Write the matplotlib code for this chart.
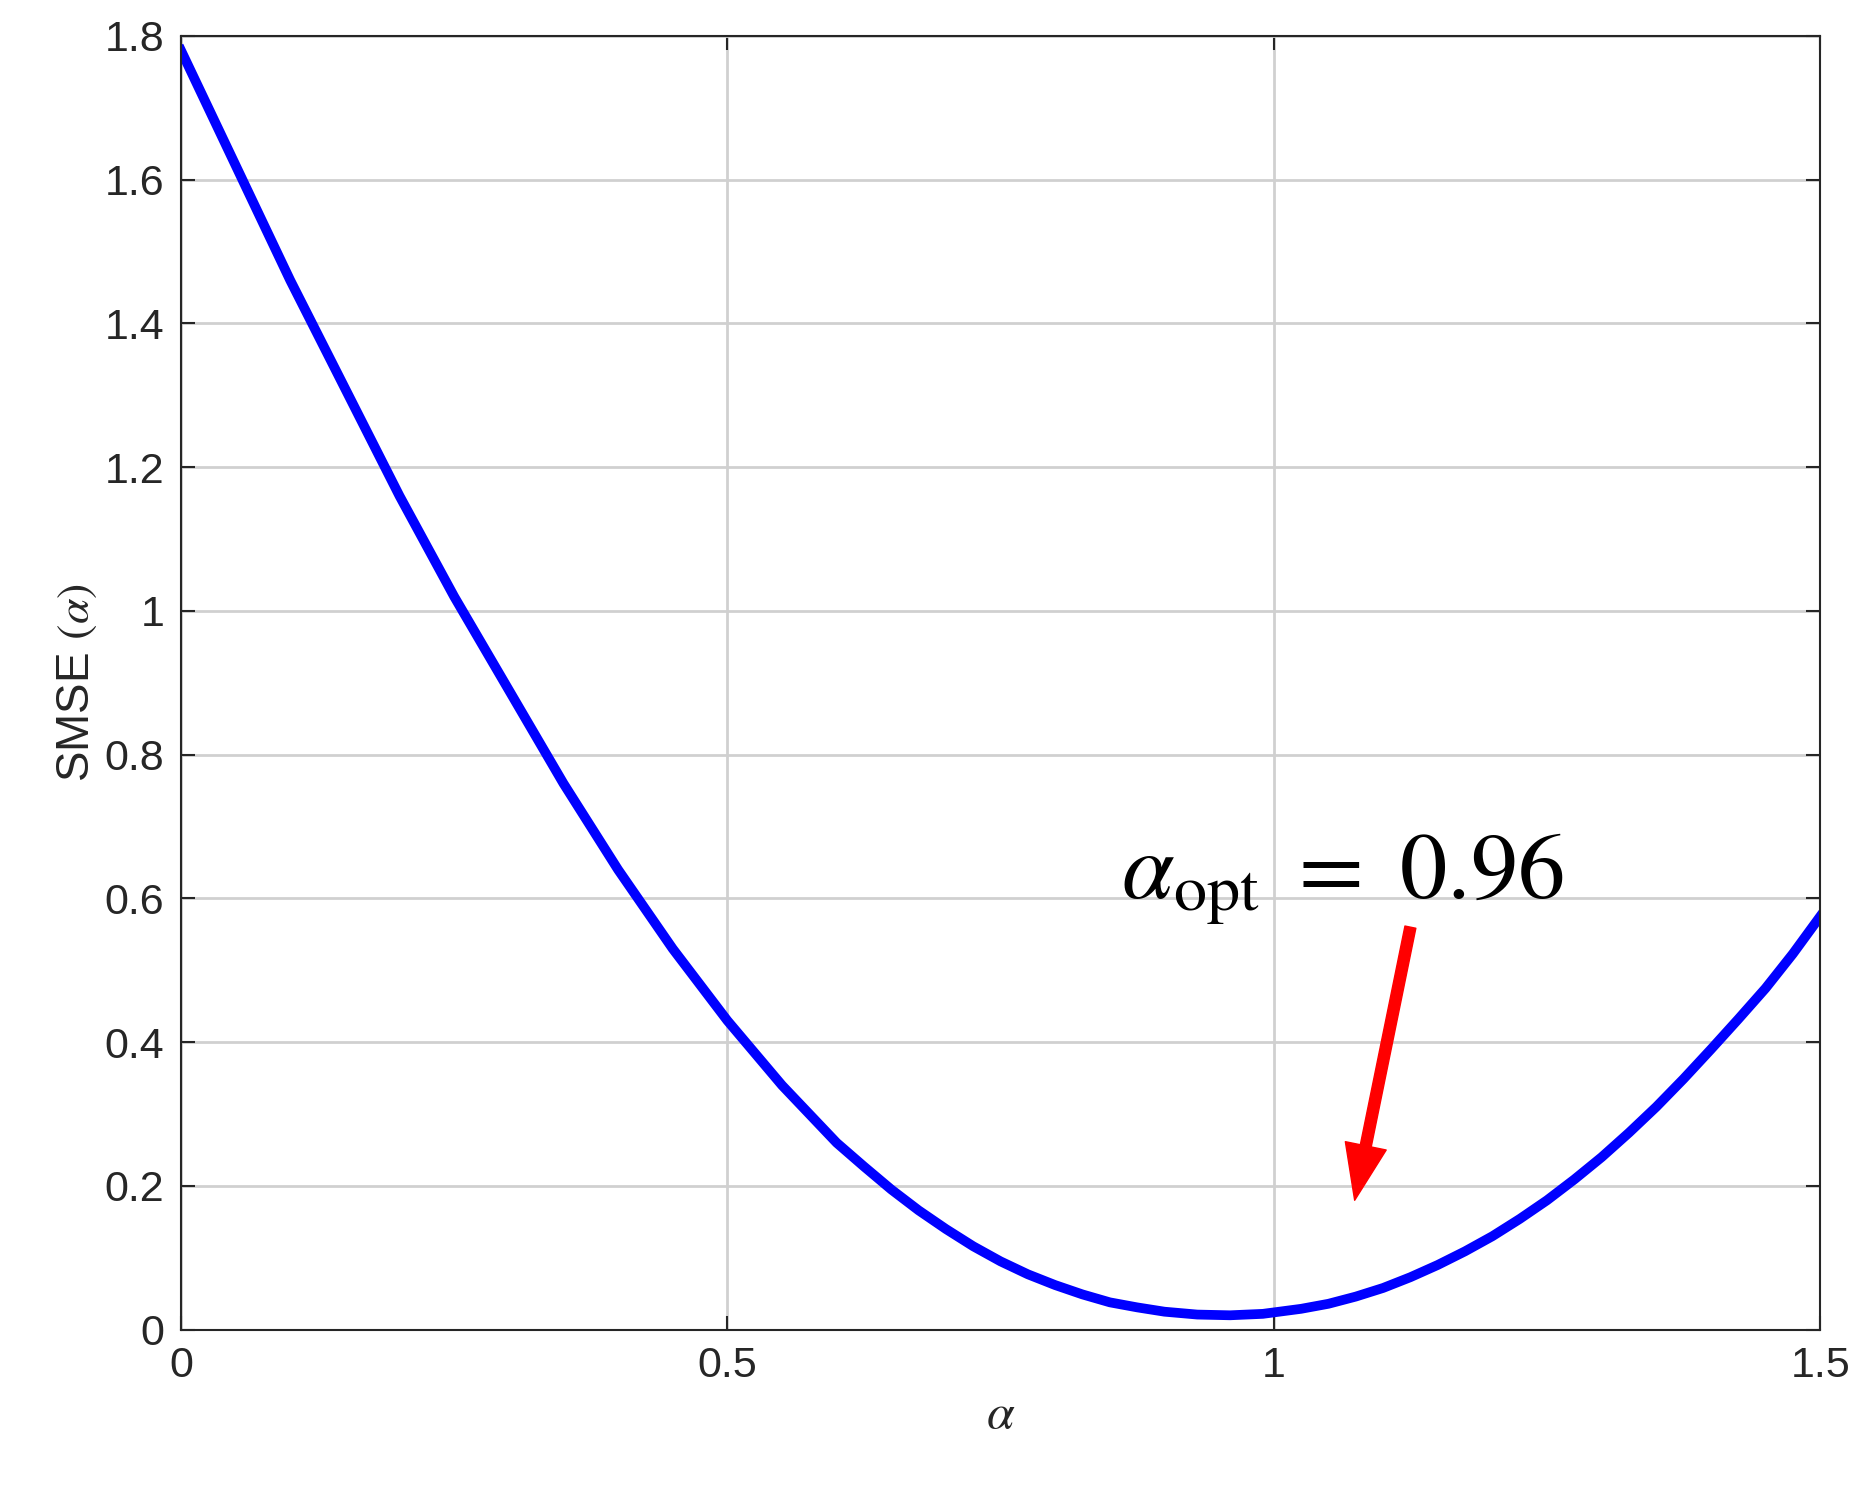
import numpy as np
import matplotlib
matplotlib.use('Agg')
import matplotlib.pyplot as plt

# values
alpha = [0.0, 0.025, 0.05, 0.075, 0.1, 0.125, 0.15, 0.175, 0.2, 0.225, 0.25, 0.275, 0.3,
         0.325, 0.35, 0.375, 0.4, 0.425, 0.45, 0.475, 0.5, 0.525, 0.55, 0.575, 0.6, 0.625,
         0.65, 0.675, 0.7, 0.725, 0.75, 0.775, 0.8, 0.825, 0.85, 0.875, 0.9, 0.93, 0.96,
         0.99, 1.0, 1.025, 1.05, 1.075, 1.1, 1.125, 1.15, 1.175, 1.2, 1.225, 1.25, 1.275,
         1.3, 1.325, 1.35, 1.375, 1.4, 1.425, 1.45, 1.475, 1.5]
smse = [1.78, 1.70, 1.62, 1.54, 1.46, 1.385, 1.31, 1.235, 1.16, 1.09, 1.02, 0.955, 0.89,
        0.825, 0.76, 0.70, 0.64, 0.585, 0.53, 0.48, 0.43, 0.385, 0.34, 0.30, 0.26, 0.227,
        0.195, 0.166, 0.14, 0.116, 0.095, 0.077, 0.062, 0.049, 0.038, 0.031, 0.025, 0.021, 0.02,
        0.022, 0.024, 0.029, 0.036, 0.046, 0.058, 0.073, 0.09, 0.109, 0.13, 0.154, 0.18, 0.209,
        0.24, 0.274, 0.31, 0.349, 0.39, 0.432, 0.475, 0.523, 0.575]
arrow_tail = (1.125, 0.56)
arrow_head = (1.074, 0.18)
label_pos = (0.86, 0.60)

plt.rcParams['font.family'] = ['Liberation Sans', 'DejaVu Sans']
plt.rcParams['mathtext.fontset'] = 'stix'

fig = plt.figure(figsize=(18.65, 14.94), dpi=100)
ax = fig.add_axes([0.097, 0.11, 0.879, 0.866])

ax.plot(alpha, smse, color='#0000ff', linewidth=7)
ax.set_xlim(0, 1.5)
ax.set_ylim(0, 1.8)
ax.set_xticks([0, 0.5, 1, 1.5])
ax.set_xticklabels(['0', '0.5', '1', '1.5'])
ax.set_yticks(np.arange(0, 1.81, 0.2))
ax.set_yticklabels(['0', '0.2', '0.4', '0.6', '0.8', '1', '1.2', '1.4', '1.6', '1.8'])
ax.grid(True, color='#d0d0d0', linewidth=2)
ax.tick_params(direction='in', top=True, right=True, labelsize=31, length=10, width=1.5,
               colors='#262626', pad=12)
for s in ax.spines.values():
    s.set_linewidth(1.5)
    s.set_color('#262626')

ax.set_xlabel(r'$\alpha$', fontsize=36, color='#262626')
ax.set_ylabel(r'SMSE $(\alpha)$', fontsize=33, color='#262626')

ax.annotate('', xy=arrow_head, xytext=arrow_tail,
            arrowprops=dict(color='#ff0000', width=8, headwidth=30, headlength=40))
ax.text(label_pos[0], label_pos[1], r'$\alpha_{\rm opt}\ =\ 0.96$', fontsize=68, color='black')

fig.savefig('out.png', dpi=100)
